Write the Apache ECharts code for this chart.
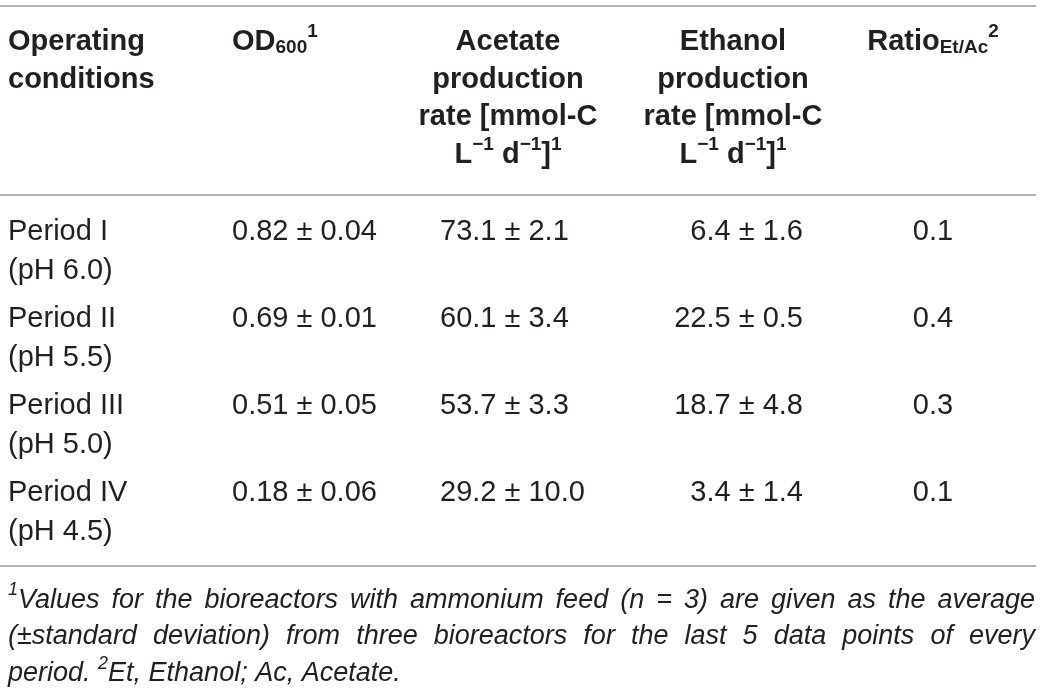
<!DOCTYPE html>
<html>
<head>
<meta charset="utf-8">
<script src="https://cdn.jsdelivr.net/npm/echarts@6/dist/echarts.min.js"></script>
<style>
    html, body { margin: 0; padding: 0; background: #fff; }
    #main { width: 1042px; height: 694px; }
</style>
</head>
<body>
<div id="main"></div>
<script>
// table content: _{..} is a subscript, ^{..} a superscript
var headers = [
    ['Operating', 'conditions'],
    ['OD_{600}^{1}'],
    ['Acetate', 'production', 'rate [mmol-C', 'L^{\u22121} d^{\u22121}]^{1}'],
    ['Ethanol', 'production', 'rate [mmol-C', 'L^{\u22121} d^{\u22121}]^{1}'],
    ['Ratio_{Et/Ac}^{2}']
];
var periods = ['Period I', 'Period II', 'Period III', 'Period IV'];
var phValues = ['(pH 6.0)', '(pH 5.5)', '(pH 5.0)', '(pH 4.5)'];
var od600 = ['0.82 \u00b1 0.04', '0.69 \u00b1 0.01', '0.51 \u00b1 0.05', '0.18 \u00b1 0.06'];
var acetateRate = ['73.1 \u00b1 2.1', '60.1 \u00b1 3.4', '53.7 \u00b1 3.3', '29.2 \u00b1 10.0'];
var ethanolRate = ['6.4 \u00b1 1.6', '22.5 \u00b1 0.5', '18.7 \u00b1 4.8', '3.4 \u00b1 1.4'];
var ratioEtAc = ['0.1', '0.4', '0.3', '0.1'];
var footnote = [
    '^{1}Values for the bioreactors with ammonium feed (n = 3) are given as the average',
    '(\u00b1standard deviation) from three bioreactors for the last 5 data points of every',
    'period. ^{2}Et, Ethanol; Ac, Acetate.'
];

var FAMILY = 'Liberation Sans';
var INK = '#231f20';
var RULE = '#9a9a9a';

var ctx = document.createElement('canvas').getContext('2d');
var measure = function (r) {
    ctx.font = (r.style || 'normal') + ' ' + (r.weight || 'normal') + ' ' + r.size + 'px "' + FAMILY + '"';
    return ctx.measureText(r.t).width;
};

var parseRuns = function (str, size, weight, style) {
    var runs = [], re = /([_^])\{([^}]*)\}/g, last = 0, m;
    while ((m = re.exec(str))) {
        if (m.index > last) runs.push({t: str.slice(last, m.index), size: size, dy: 0});
        runs.push({
            t: m[2],
            size: Math.round(size * 0.66),
            dy: m[1] === '^' ? -size * 0.36 : size * 0.2
        });
        last = re.lastIndex;
    }
    if (last < str.length) runs.push({t: str.slice(last), size: size, dy: 0});
    runs.forEach(function (r) { r.weight = weight; r.style = style; });
    return runs;
};

var runsWidth = function (runs) {
    var w = 0;
    for (var i in runs) w += measure(runs[i]);
    return w;
};

var elements = [];
var placeRuns = function (runs, x, y, align) {
    var w = runsWidth(runs);
    var x0 = align === 'center' ? x - w / 2 : (align === 'right' ? x - w : x);
    runs.forEach(function (r) {
        elements.push({
            type: 'text',
            x: x0,
            y: y + r.dy,
            style: {
                text: r.t,
                fill: INK,
                fontSize: r.size,
                fontFamily: FAMILY,
                fontWeight: r.weight || 'normal',
                fontStyle: r.style || 'normal',
                align: 'left',
                textAlign: 'left',
                verticalAlign: 'middle',
                textVerticalAlign: 'middle'
            }
        });
        x0 += measure(r);
    });
};
var hRule = function (y) {
    elements.push({
        type: 'line',
        shape: {x1: 0, y1: y, x2: 1036, y2: y},
        style: {stroke: RULE, lineWidth: 1.6}
    });
};

// layout
var headSize = 29, bodySize = 29, noteSize = 27;
var headX = [8, 232, 508, 733, 933];
var headAlign = ['left', 'left', 'center', 'center', 'center'];
var headTop = 42, headStep = 37.7;
var bodyX = [8, 232, 440, 803, 933];
var bodyAlign = ['left', 'left', 'left', 'right', 'center'];
var bodyTop = 232, rowStep = 87, subStep = 39;

hRule(6);
hRule(195);
hRule(566);

headers.forEach(function (lines, c) {
    lines.forEach(function (s, l) {
        placeRuns(parseRuns(s, headSize, 'bold'), headX[c], headTop + l * headStep, headAlign[c]);
    });
});

var columns = [periods, od600, acetateRate, ethanolRate, ratioEtAc];
periods.forEach(function (p, i) {
    var y = bodyTop + i * rowStep;
    columns.forEach(function (col, c) {
        placeRuns(parseRuns(col[i], bodySize), bodyX[c], y, bodyAlign[c]);
    });
    placeRuns(parseRuns(phValues[i], bodySize), bodyX[0], y + subStep, 'left');
});

// footnote, justified except the last line
var noteLeft = 8, noteRight = 1035, noteTop = 600, noteStep = 36.7;
footnote.forEach(function (line, l) {
    var words = line.split(' ').map(function (w) { return parseRuns(w, noteSize, 'normal', 'italic'); });
    var widths = words.map(runsWidth);
    var sum = widths.reduce(function (a, b) { return a + b; }, 0);
    var gap = measure({t: ' ', size: noteSize, style: 'italic'});
    if (l < footnote.length - 1) gap = (noteRight - noteLeft - sum) / (words.length - 1);
    var x = noteLeft;
    words.forEach(function (w, i) {
        placeRuns(w, x, noteTop + l * noteStep, 'left');
        x += widths[i] + gap;
    });
});

var myChart = echarts.init(document.getElementById('main'));
var option = {
    backgroundColor: '#fff',
    graphic: {elements: elements}
};
myChart.setOption(option);
</script>
</body>
</html>
